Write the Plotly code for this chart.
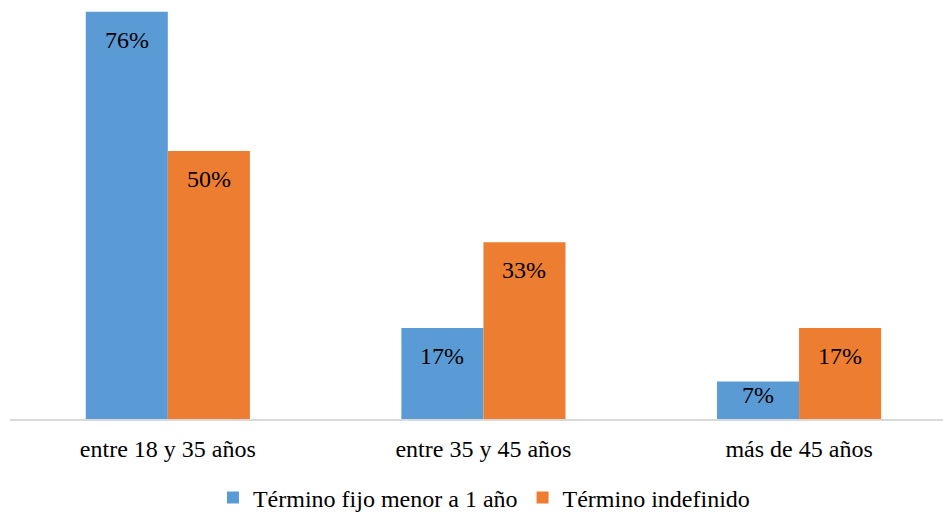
import plotly.graph_objects as go

# Age groups and share of each contract type
categories = ["entre 18 y 35 años", "entre 35 y 45 años", "más de 45 años"]
series_names = ["Término fijo menor a 1 año", "Término indefinido"]
fijo = [76, 17, 7]
indefinido = [50, 33, 17]

colors = ["#5B9BD5", "#ED7D31"]
FONT = "'Times New Roman', 'Liberation Serif', 'DejaVu Serif', serif"
FS = 24

W, H = 943, 512
M_L, M_R, M_T, M_B = 10, 0, 0, 93
Y_MAX = 78.2
BARGAP = 0.48

fig = go.Figure()
for name, vals, col in zip(series_names, [fijo, indefinido], colors):
    fig.add_trace(go.Bar(
        name=name,
        x=categories,
        y=vals,
        marker=dict(color=col, line=dict(width=0)),
        hoverinfo="skip",
    ))

# Value labels just inside the top of each bar
plot_h = H - M_T - M_B
px_per_unit = plot_h / Y_MAX
bar_w = (1 - BARGAP) / 2
for s, vals in enumerate([fijo, indefinido]):
    off = (s - 0.5) * bar_w
    for i, v in enumerate(vals):
        bar_px = v * px_per_unit
        shift = min(28, bar_px - 24)
        fig.add_annotation(
            x=i + off, y=v, xref="x", yref="y",
            text=f"{v}%", showarrow=False,
            yanchor="middle", xanchor="center",
            yshift=-shift,
            font=dict(family=FONT, size=FS, color="#000000"),
        )

fig.update_layout(
    width=W, height=H,
    margin=dict(l=M_L, r=M_R, t=M_T, b=M_B),
    paper_bgcolor="white", plot_bgcolor="white",
    barmode="group", bargap=BARGAP, bargroupgap=0,
    font=dict(family=FONT, size=FS, color="#000000"),
    showlegend=True,
    legend=dict(
        orientation="h", x=0.508, xanchor="center",
        yref="container", y=1 - 498 / H, yanchor="middle",
        font=dict(family=FONT, size=FS, color="#000000"),
        itemwidth=30,
    ),
    xaxis=dict(
        type="category",
        range=[-0.5, 2.456],
        showline=True, linecolor="#D9D9D9", linewidth=2,
        ticks="outside", ticklen=7, tickcolor="rgba(0,0,0,0)",
        showgrid=False, zeroline=False,
        tickfont=dict(family=FONT, size=FS, color="#000000"),
    ),
    yaxis=dict(
        range=[0, Y_MAX], visible=False, showgrid=False, zeroline=False,
    ),
)

fig.write_html("out.html")
